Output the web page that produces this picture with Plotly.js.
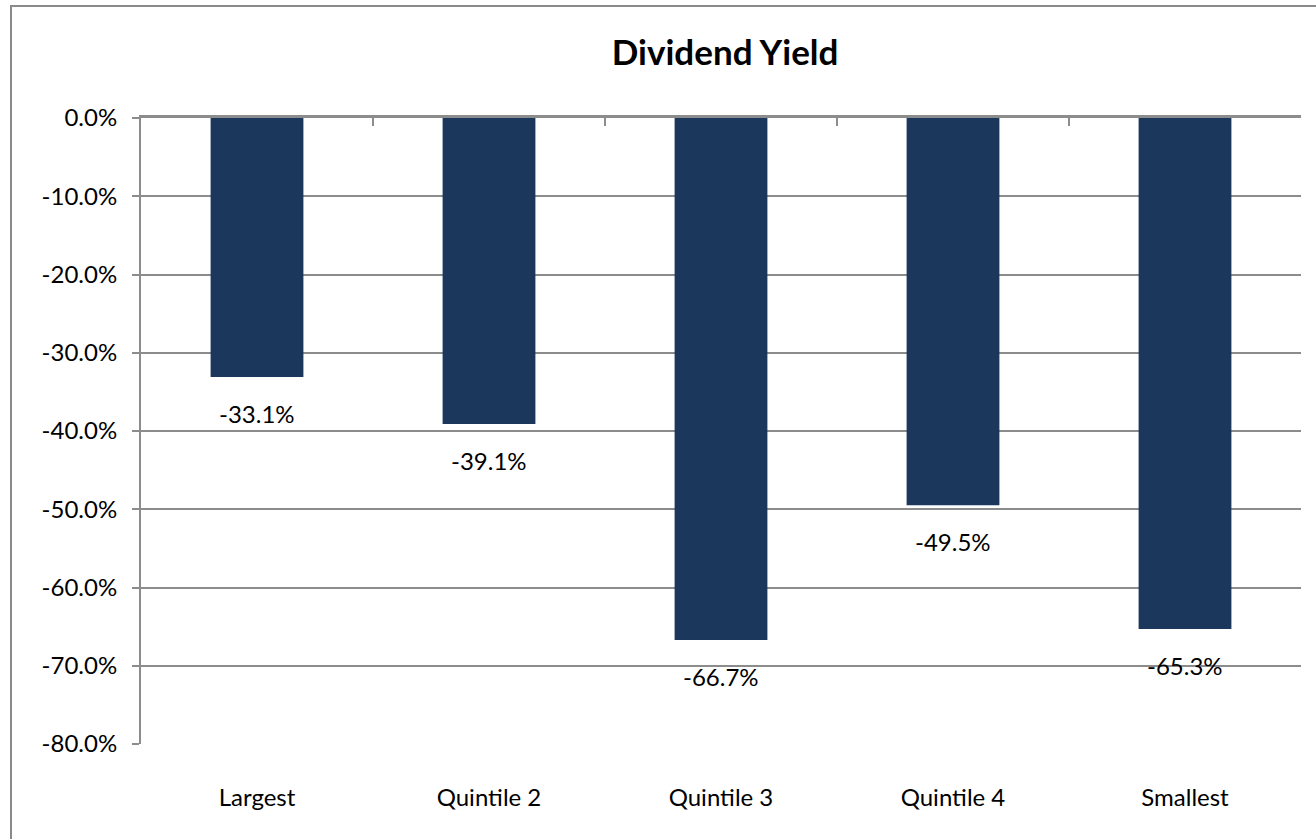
<!DOCTYPE html>
<html>
<head>
<meta charset="utf-8">
<script src="https://cdn.plot.ly/plotly-3.0.1.min.js"></script>
<style>
  html, body { margin: 0; padding: 0; width: 1316px; height: 839px; overflow: hidden; background: #ffffff; }
  #frame { position: absolute; left: 10px; top: 5px; width: 1400px; height: 900px; border: 2px solid #8a8a8a; box-sizing: border-box; }
  #chart { position: absolute; left: 0; top: 0; width: 1316px; height: 839px; }
</style>
</head>
<body>
<div id="frame"></div>
<div id="chart"></div>
<script>
const categories = ["Largest", "Quintile 2", "Quintile 3", "Quintile 4", "Smallest"];
const values = [-33.1, -39.1, -66.7, -49.5, -65.3];
const yTicks = [0, -10, -20, -30, -40, -50, -60, -70, -80];
const titleText = "Dividend Yield";

const FONT = "Lato, 'Open Sans', sans-serif";
const GRID = "#8c8c8c";

const trace = {
  type: "bar",
  x: categories,
  y: values,
  marker: { color: "#1b375c" },
  width: 0.4,
  hoverinfo: "x+y"
};

const annotations = values.map((v, i) => ({
  x: categories[i],
  y: v,
  xref: "x",
  yref: "y",
  text: v.toFixed(1) + "%",
  showarrow: false,
  yanchor: "top",
  yshift: -20,
  font: { family: FONT, size: 24, color: "#000000" }
}));

const layout = {
  width: 1316,
  height: 839,
  margin: { l: 141, r: 15, t: 118, b: 95, pad: 0 },
  paper_bgcolor: "rgba(0,0,0,0)",
  plot_bgcolor: "rgba(0,0,0,0)",
  showlegend: false,
  title: {
    text: "<b>" + titleText + "</b>",
    x: 0.551,
    xanchor: "center",
    y: 0.937,
    yanchor: "middle",
    font: { family: FONT, size: 35, color: "#000000" }
  },
  xaxis: {
    type: "category",
    range: [-0.5, 4.5],
    showline: false,
    showgrid: false,
    zeroline: false,
    ticks: "",
    tickfont: { family: FONT, size: 24, color: "#000000" },
    ticklabelstandoff: 37
  },
  xaxis2: {
    type: "linear",
    overlaying: "x",
    side: "top",
    anchor: "y",
    range: [-0.5, 4.5],
    tickvals: [-0.5, 0.5, 1.5, 2.5, 3.5, 4.5],
    ticks: "inside",
    ticklen: 8,
    tickwidth: 2,
    tickcolor: GRID,
    showticklabels: false,
    showline: true,
    linecolor: GRID,
    linewidth: 3,
    showgrid: false,
    zeroline: false
  },
  yaxis: {
    range: [-80, 0],
    tickvals: yTicks,
    ticktext: yTicks.map(t => t.toFixed(1) + "%"),
    showline: true,
    linecolor: GRID,
    linewidth: 2,
    ticks: "outside",
    ticklen: 7,
    tickwidth: 2,
    tickcolor: GRID,
    showgrid: true,
    gridcolor: GRID,
    gridwidth: 2,
    zeroline: false,
    ticklabelstandoff: 10,
    tickfont: { family: FONT, size: 24, color: "#000000" }
  },
  annotations: annotations
};

const dummy = { type: "scatter", x: [0], y: [0], xaxis: "x2", yaxis: "y", mode: "markers", marker: { opacity: 0 }, hoverinfo: "skip", showlegend: false };

Plotly.newPlot("chart", [trace, dummy], layout, { displayModeBar: false, staticPlot: true });
</script>
</body>
</html>
